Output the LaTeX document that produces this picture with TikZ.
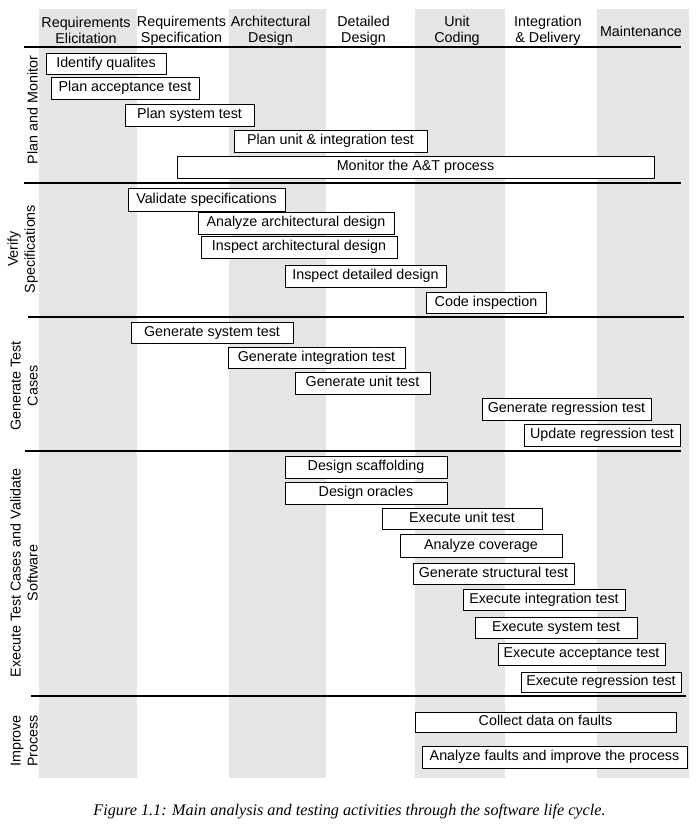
\documentclass[tikz,border=0pt]{standalone}
\usepackage{fontspec}
\setmainfont{Liberation Sans}
\newfontfamily\capfont{Liberation Serif}
\definecolor{colgray}{RGB}{229,229,229}
\newcommand\ActBox[6]{\node[act, minimum width={(#4-#2)*1pt}, minimum height={(#5-#3)*1pt}] (#1) at ({(#2+#4)/2},{(#3+#5)/2}) {#6};}
\begin{document}
\begin{tikzpicture}[x=1pt,y=-1pt,
  act/.style={draw=black, line width=0.9pt, fill=white, inner sep=0pt,
    font=\fontsize{14.3}{16}\selectfont, text height=10.2pt, text depth=3pt},
  hdr/.style={align=center, inner sep=0pt, font=\fontsize{14.3}{16}\selectfont},
  rowlab/.style={align=center, rotate=90, anchor=south, inner sep=0pt,
    font=\fontsize{14.3}{17}\selectfont},
  sepline/.style={line width=1.2pt}]
\useasboundingbox (0,0) rectangle (698,834);
\fill[white] (0,0) rectangle (698,834);
% grey phase columns
\fill[colgray] (39,9) rectangle (137,778);
\fill[colgray] (229,9) rectangle (326,778);
\fill[colgray] (415,9) rectangle (505,778);
\fill[colgray] (597,9) rectangle (689,778);
% column headers
\node[hdr] (h1) at (86,30.5) {Requirements\\Elicitation};
\node[hdr] (h2) at (181.5,30.5) {Requirements\\Specification};
\node[hdr] (h3) at (270.5,30.5) {Architectural\\Design};
\node[hdr] (h4) at (363.5,30.5) {Detailed\\Design};
\node[hdr] (h5) at (457,30.5) {Unit\\Coding};
\node[hdr] (h6) at (548,30.5) {Integration\\\& Delivery};
\node[hdr] (h7) at (641,31) {Maintenance};
% separators
\draw[sepline] (24,47) -- (681,47);
\draw[sepline] (24,183) -- (681,183);
\draw[sepline] (28,317) -- (684,317);
\draw[sepline] (25,451) -- (681,451);
\draw[sepline] (31,696) -- (686,696);
% row labels
\node[rowlab] (r1) at (38,110) {Plan and Monitor};
\node[rowlab] (r2) at (38,249) {Verify\\Specifications};
\node[rowlab] (r3) at (38,386) {Generate Test\\Cases};
\node[rowlab] (r4) at (38,573) {Execute Test Cases and Validate\\Software};
\node[rowlab] (r5) at (38,741) {Improve\\Process};
% Plan and Monitor
\ActBox{a1}{46}{53}{166}{74}{Identify qualites}
\ActBox{a2}{51}{77}{199}{99}{Plan acceptance test}
\ActBox{a3}{125}{104}{254}{126}{Plan system test}
\ActBox{a4}{234}{130}{427}{152}{Plan unit \& integration test}
\ActBox{a5}{177}{156}{654}{178}{Monitor the A\&T process}
% Verify Specifications
\ActBox{b1}{128}{188}{285}{211}{Validate specifications}
\ActBox{b2}{198}{212}{394}{234}{Analyze architectural design}
\ActBox{b3}{201}{236}{397}{258}{Inspect architectural design}
\ActBox{b4}{285}{265}{446}{287}{Inspect detailed design}
\ActBox{b5}{426}{292}{546}{313}{Code inspection}
% Generate Test Cases
\ActBox{c1}{131}{322}{293}{343}{Generate system test}
\ActBox{c2}{228}{347}{405}{368}{Generate integration test}
\ActBox{c3}{295}{372}{430}{394}{Generate unit test}
\ActBox{c4}{482}{398}{651}{420}{Generate regression test}
\ActBox{c5}{524}{424}{680}{446}{Update regression test}
% Execute Test Cases and Validate Software
\ActBox{d1}{285}{456}{447}{478}{Design scaffolding}
\ActBox{d2}{285}{482}{447}{504}{Design oracles}
\ActBox{d3}{382}{508}{542}{529}{Execute unit test}
\ActBox{d4}{400}{534}{562}{557}{Analyze coverage}
\ActBox{d5}{413}{563}{574}{584}{Generate structural test}
\ActBox{d6}{463}{589}{625}{610}{Execute integration test}
\ActBox{d7}{475}{617}{637}{638}{Execute system test}
\ActBox{d8}{498}{643}{665}{665}{Execute acceptance test}
\ActBox{d9}{521}{672}{681}{692}{Execute regression test}
% Improve Process
\ActBox{e1}{415}{712}{676}{732}{Collect data on faults}
\ActBox{e2}{422}{746}{687}{768}{Analyze faults and improve the process}
% caption
\node[anchor=base, inner sep=0pt, font=\capfont\itshape\fontsize{16.2}{18}\selectfont] (cap) at (349.5,815) {Figure 1.1: Main analysis and testing activities through the software life cycle.};
\end{tikzpicture}
\end{document}
